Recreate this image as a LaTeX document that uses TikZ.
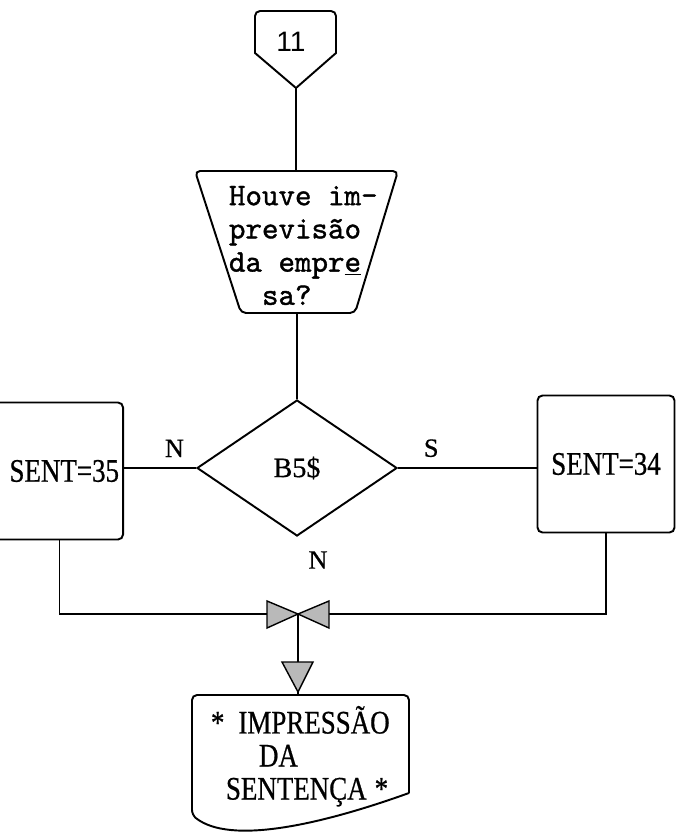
\documentclass[tikz,border=0pt]{standalone}
\usepackage{fontspec}
\setmainfont{Liberation Serif}
\newfontfamily\tipofont[FakeStretch=0.82,FakeBold=0.6]{Liberation Serif}
\newfontfamily\rotfont[FakeBold=0.6]{Liberation Serif}
\newfontfamily\maqfont[FakeBold=1.2]{lmmono10-regular.otf}
\newfontfamily\conffont{Liberation Sans}
\usetikzlibrary{shapes.geometric,positioning,calc}
\tikzset{
  proc/.style={draw, rounded corners=1mm, minimum width=27.4mm, minimum height=27.4mm,
               inner sep=0.8mm, font=\tipofont\fontsize{18.7}{18.7}\selectfont},
  decis/.style={draw, diamond, minimum width=40mm, minimum height=27.2mm, inner sep=0pt,
                font=\rotfont\fontsize{16}{16}\selectfont},
  rot/.style={font=\rotfont\fontsize{15}{15}\selectfont, inner sep=0pt},
  junta/.style={line width=0.8pt, fill=gray!55},
}

\begin{document}
\begin{tikzpicture}[x=0.2mm, y=-0.2mm, line width=1.1pt]
  \useasboundingbox (0,0) rectangle (678,834);

  % conector 11
  \coordinate (c11) at (296,88);
  \draw (c11) -- (255,53) {[rounded corners=1mm] -- (255,11) -- (336,11)} -- (336,53) -- cycle;
  \node[font=\conffont\fontsize{16}{16}\selectfont] (n11) at (291,42) {11};

  % pergunta
  \coordinate (tq-n) at (296,171);
  \coordinate (tq-s) at (297,313);
  \draw[rounded corners=1mm] (195,171) -- (398,171) -- (355,313) -- (241,313) -- cycle;
  \node[font=\maqfont\fontsize{17.9}{18.9}\selectfont, align=left, inner sep=0,
        anchor=north west] (quest) at (228,185)
       {Houve im-\\previsão\\da empr\underline{e}\\\hspace*{1.05em}sa?};

  \node[decis] (b5) at (297,468) {B5\$\hspace{3mm}};
  \node[proc, anchor=east, text width=25.8mm, align=right] (s35) at (124,471) {SENT=35};
  \node[proc] (s34) at (606,464) {SENT=34};

  \draw (c11) -- (tq-n);
  \draw (tq-s) -- (b5.north);
  \draw (b5.west) -- node[rot, pos=0.3, above=2mm] (ln) {N} (b5.west -| s35.east);
  \draw (b5.east) -- node[rot, pos=0.24, above=2mm] (ls) {S} (b5.east -| s34.west);
  \node[rot] (lnb) at (318,560) {N};

  % juncao
  \coordinate (jn) at (298,614);
  \coordinate (doc-n) at (298,695);
  \draw ([xshift=1mm]s35.south) |- (jn);
  \draw (s34.south) |- (jn);
  \draw (jn) -- (doc-n);
  \filldraw[junta] (jn) -- (267,601) -- (267,628) -- cycle;
  \filldraw[junta] (jn) -- (329,601) -- (329,628) -- cycle;
  \filldraw[junta] (282,662) -- (313,662) -- (298,692) -- cycle;

  % impressao
  \draw (409,793) {[rounded corners=1mm] -- (409,695) -- (192,695) -- (192,815)}
        .. controls (230,845) and (320,825) .. (409,793);
  \node[font=\tipofont\fontsize{18.7}{18.8}\selectfont, align=left, inner sep=0,
        anchor=north west] (impr) at (210,705)
       {*\hspace{2.8mm}IMPRESSÃO\\\hspace{9.6mm}DA\\\hspace{3mm}SENTENÇA\hspace{1.6mm}*};
\end{tikzpicture}
\end{document}
